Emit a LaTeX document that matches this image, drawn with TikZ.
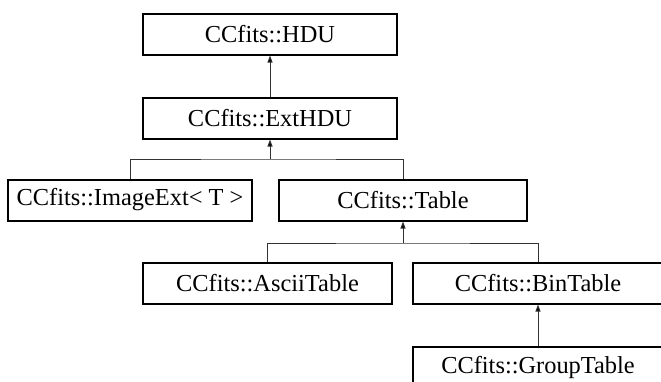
\documentclass[tikz,border=0pt]{standalone}
\usepackage{fontspec}
\setmainfont{Liberation Serif}
\usetikzlibrary{arrows.meta}
\begin{document}
\begin{tikzpicture}[x=1pt,y=-1pt,
  cls/.style={draw=black,line width=2pt,fill=white,minimum height=41pt,inner sep=0pt,font=\fontsize{24.4}{28}\selectfont},
  inh/.style={draw=black!80,line width=1pt,-{Triangle[length=7pt,width=5pt,fill=black]}},
  link/.style={draw=black!80,line width=1pt}]
\useasboundingbox (0,0) rectangle (661,381);
\clip (0,0) rectangle (661,381);
\node[cls,minimum width=254pt] (hdu) at (270,34) {CCfits::HDU};
\node[cls,minimum width=254pt] (ext) at (270,118) {CCfits::ExtHDU};
\node[cls,minimum width=244pt] (img) at (130,200) {CCfits::ImageExt< T >};
\node[cls,minimum width=248pt] (tab) at (403,200) {CCfits::Table};
\node[cls,minimum width=249pt] (asc) at (267.5,283) {CCfits::AsciiTable};
\node[cls,minimum width=250pt] (bin) at (538,283) {CCfits::BinTable};
\node[cls,minimum width=250pt] (grp) at (538,367) {CCfits::GroupTable};
\coordinate (b1) at (270,159);
\coordinate (b2) at (403,243);
\draw[inh] (ext.north) -- (hdu.south);
\draw[link] (img.north) |- (b1) -| (tab.north);
\draw[inh] (b1) -- (ext.south);
\draw[link] (asc.north) |- (b2) -| (bin.north);
\draw[inh] (b2) -- (tab.south);
\draw[inh] (grp.north) -- (bin.south);
\end{tikzpicture}
\end{document}
